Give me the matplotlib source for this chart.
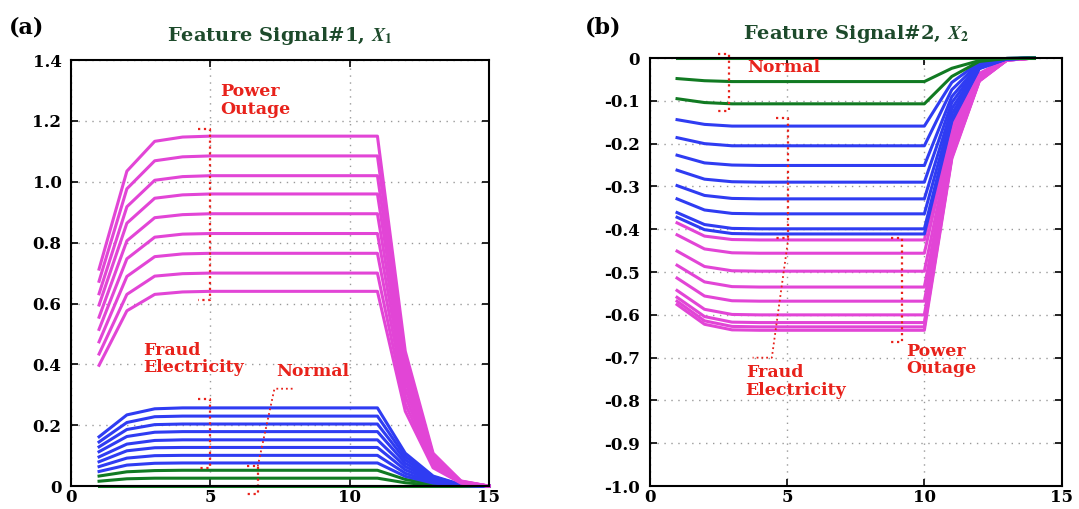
import matplotlib
matplotlib.use('Agg')
import matplotlib.pyplot as plt

plt.rcParams['font.family'] = ['DejaVu Serif']
plt.rcParams['font.weight'] = 'bold'
plt.rcParams['mathtext.fontset'] = 'stix'

# ---- data ----
x1 = list(range(1, 16))
x2 = list(range(1, 15))

# (a) Feature Signal#1
outage1 = [
    [0.713, 1.035, 1.133, 1.147, 1.15, 1.15, 1.15, 1.15, 1.15, 1.15, 1.15, 0.443, 0.108, 0.017, 0],
    [0.673, 0.977, 1.069, 1.082, 1.085, 1.085, 1.085, 1.085, 1.085, 1.085, 1.085, 0.418, 0.102, 0.016, 0],
    [0.632, 0.918, 1.005, 1.017, 1.02, 1.02, 1.02, 1.02, 1.02, 1.02, 1.02, 0.393, 0.096, 0.015, 0],
    [0.595, 0.864, 0.946, 0.957, 0.96, 0.96, 0.96, 0.96, 0.96, 0.96, 0.96, 0.370, 0.090, 0.014, 0],
    [0.555, 0.806, 0.882, 0.892, 0.895, 0.895, 0.895, 0.895, 0.895, 0.895, 0.895, 0.345, 0.084, 0.013, 0],
    [0.515, 0.747, 0.818, 0.828, 0.83, 0.83, 0.83, 0.83, 0.83, 0.83, 0.83, 0.320, 0.078, 0.012, 0],
    [0.474, 0.689, 0.754, 0.763, 0.765, 0.765, 0.765, 0.765, 0.765, 0.765, 0.765, 0.295, 0.072, 0.011, 0],
    [0.434, 0.630, 0.690, 0.698, 0.70, 0.70, 0.70, 0.70, 0.70, 0.70, 0.70, 0.270, 0.066, 0.011, 0],
    [0.397, 0.576, 0.630, 0.638, 0.64, 0.64, 0.64, 0.64, 0.64, 0.64, 0.64, 0.246, 0.060, 0.010, 0],
]
fraud1 = [
    [0.162, 0.234, 0.254, 0.257, 0.257, 0.257, 0.257, 0.257, 0.257, 0.257, 0.257, 0.108, 0.033, 0.005, 0],
    [0.145, 0.209, 0.228, 0.230, 0.230, 0.230, 0.230, 0.230, 0.230, 0.230, 0.230, 0.097, 0.030, 0.005, 0],
    [0.129, 0.186, 0.202, 0.204, 0.204, 0.204, 0.204, 0.204, 0.204, 0.204, 0.204, 0.086, 0.027, 0.004, 0],
    [0.113, 0.163, 0.177, 0.179, 0.179, 0.179, 0.179, 0.179, 0.179, 0.179, 0.179, 0.075, 0.023, 0.004, 0],
    [0.096, 0.138, 0.150, 0.152, 0.152, 0.152, 0.152, 0.152, 0.152, 0.152, 0.152, 0.064, 0.020, 0.003, 0],
    [0.080, 0.116, 0.126, 0.127, 0.127, 0.127, 0.127, 0.127, 0.127, 0.127, 0.127, 0.053, 0.017, 0.003, 0],
    [0.064, 0.092, 0.100, 0.101, 0.101, 0.101, 0.101, 0.101, 0.101, 0.101, 0.101, 0.042, 0.013, 0.002, 0],
    [0.048, 0.069, 0.075, 0.076, 0.076, 0.076, 0.076, 0.076, 0.076, 0.076, 0.076, 0.032, 0.010, 0.002, 0],
]
normal1 = [
    [0.033, 0.047, 0.051, 0.052, 0.052, 0.052, 0.052, 0.052, 0.052, 0.052, 0.052, 0.022, 0.007, 0.001, 0],
    [0.016, 0.024, 0.026, 0.026, 0.026, 0.026, 0.026, 0.026, 0.026, 0.026, 0.026, 0.011, 0.003, 0, 0],
    [0, 0, 0, 0, 0, 0, 0, 0, 0, 0, 0, 0, 0, 0, 0],
]

# (b) Feature Signal#2
normal2 = [
    [0, 0, 0, 0, 0, 0, 0, 0, 0, 0, 0, 0, 0, 0],
    [-0.048, -0.053, -0.055, -0.055, -0.055, -0.055, -0.055, -0.055, -0.055, -0.055, -0.024, -0.006, -0.001, 0],
    [-0.095, -0.104, -0.107, -0.107, -0.107, -0.107, -0.107, -0.107, -0.107, -0.107, -0.043, -0.008, -0.001, 0],
]
fraud2 = [
    [-0.144, -0.155, -0.159, -0.159, -0.159, -0.159, -0.159, -0.159, -0.159, -0.159, -0.057, -0.010, -0.001, 0],
    [-0.186, -0.200, -0.205, -0.205, -0.205, -0.205, -0.205, -0.205, -0.205, -0.205, -0.074, -0.012, -0.001, 0],
    [-0.227, -0.245, -0.250, -0.251, -0.251, -0.251, -0.251, -0.251, -0.251, -0.251, -0.090, -0.015, -0.002, 0],
    [-0.262, -0.283, -0.289, -0.290, -0.290, -0.290, -0.290, -0.290, -0.290, -0.290, -0.104, -0.017, -0.002, 0],
    [-0.298, -0.321, -0.328, -0.329, -0.329, -0.329, -0.329, -0.329, -0.329, -0.329, -0.118, -0.020, -0.002, 0],
    [-0.329, -0.355, -0.363, -0.364, -0.364, -0.364, -0.364, -0.364, -0.364, -0.364, -0.131, -0.022, -0.002, 0],
    [-0.361, -0.389, -0.398, -0.399, -0.399, -0.399, -0.399, -0.399, -0.399, -0.399, -0.144, -0.024, -0.002, 0],
    [-0.372, -0.401, -0.410, -0.411, -0.411, -0.411, -0.411, -0.411, -0.411, -0.411, -0.148, -0.025, -0.002, 0],
]
outage2 = [
    [-0.385, -0.416, -0.424, -0.425, -0.425, -0.425, -0.425, -0.425, -0.425, -0.425, -0.157, -0.036, -0.003, 0],
    [-0.413, -0.446, -0.455, -0.456, -0.456, -0.456, -0.456, -0.456, -0.456, -0.456, -0.169, -0.039, -0.004, 0],
    [-0.451, -0.487, -0.497, -0.498, -0.498, -0.498, -0.498, -0.498, -0.498, -0.498, -0.184, -0.042, -0.004, 0],
    [-0.484, -0.523, -0.534, -0.535, -0.535, -0.535, -0.535, -0.535, -0.535, -0.535, -0.198, -0.045, -0.004, 0],
    [-0.514, -0.556, -0.567, -0.568, -0.568, -0.568, -0.568, -0.568, -0.568, -0.568, -0.210, -0.048, -0.005, 0],
    [-0.543, -0.587, -0.599, -0.600, -0.600, -0.600, -0.600, -0.600, -0.600, -0.600, -0.222, -0.051, -0.005, 0],
    [-0.559, -0.604, -0.617, -0.618, -0.618, -0.618, -0.618, -0.618, -0.618, -0.618, -0.229, -0.053, -0.005, 0],
    [-0.568, -0.614, -0.627, -0.628, -0.628, -0.628, -0.628, -0.628, -0.628, -0.628, -0.232, -0.053, -0.005, 0],
    [-0.576, -0.622, -0.635, -0.636, -0.636, -0.636, -0.636, -0.636, -0.636, -0.636, -0.235, -0.054, -0.005, 0],
]

yticks1 = [0, 0.2, 0.4, 0.6, 0.8, 1.0, 1.2, 1.4]
ylabels1 = ['0', '0.2', '0.4', '0.6', '0.8', '1.0', '1.2', '1.4']
yticks2 = [0, -0.1, -0.2, -0.3, -0.4, -0.5, -0.6, -0.7, -0.8, -0.9, -1.0]
ylabels2 = ['0', '-0.1', '-0.2', '-0.3', '-0.4', '-0.5', '-0.6', '-0.7', '-0.8', '-0.9', '-1.0']
xticks = [0, 5, 10, 15]

MAG = '#e245d6'
BLU = '#2f3cf2'
GRN = '#117a22'
RED = '#e8221b'
TITLE = '#1d4a2b'
LW = 2.2

fig = plt.figure(figsize=(10.79, 5.09), dpi=100)
ax1 = fig.add_axes([0.066, 0.045, 0.387, 0.837])
ax2 = fig.add_axes([0.602, 0.045, 0.382, 0.841])


def style(ax, yt, yl, ylim):
    ax.set_xlim(0, 15)
    ax.set_ylim(*ylim)
    ax.set_xticks(xticks)
    ax.set_xticklabels([str(t) for t in xticks])
    ax.set_yticks(yt)
    ax.set_yticklabels(yl)
    ax.grid(True, linestyle=(0, (1, 4)), color='#999999', linewidth=1.0)
    ax.tick_params(direction='in', length=5, width=1.2, top=True, right=True,
                   labelsize=12)
    ax.tick_params(axis='x', pad=2)
    ax.tick_params(axis='y', pad=7)
    for s in ax.spines.values():
        s.set_linewidth(1.5)


def bracket(ax, x, ytop, ybot, dx):
    kw = dict(color=RED, linestyle=':', linewidth=1.6, clip_on=False)
    ax.plot([x - dx, x, x, x - dx], [ytop, ytop, ybot, ybot], **kw)


# panel (a)
style(ax1, yticks1, ylabels1, (0, 1.4))
for row in normal1:
    ax1.plot(x1, row, color=GRN, lw=LW, clip_on=False)
for row in fraud1:
    ax1.plot(x1, row, color=BLU, lw=LW, clip_on=False)
for row in outage1:
    ax1.plot(x1, row, color=MAG, lw=LW, clip_on=False)

bracket(ax1, 5, 1.175, 0.61, 0.45)
bracket(ax1, 5, 0.285, 0.06, 0.45)
bracket(ax1, 6.7, 0.065, -0.025, 0.4)
ax1.plot([6.7, 7.3, 8.0], [0.065, 0.32, 0.32], color=RED, linestyle=':', lw=1.3)

tk = dict(color=RED, fontsize=12.5, fontweight='bold', va='top', ha='left', linespacing=1.05)
ax1.text(5.35, 1.325, 'Power\nOutage', **tk)
ax1.text(2.6, 0.475, 'Fraud\nElectricity', **tk)
ax1.text(7.35, 0.405, 'Normal', **tk)

ax1.set_title('Feature Signal#1, $X_1$', color=TITLE, fontsize=14,
              fontweight='bold', pad=14)
fig.text(0.008, 0.935, '(a)', fontsize=16, fontweight='bold')

# panel (b)
style(ax2, yticks2, ylabels2, (-1.0, 0))
for row in outage2:
    ax2.plot(x2, row, color=MAG, lw=LW, clip_on=False)
for row in fraud2:
    ax2.plot(x2, row, color=BLU, lw=LW, clip_on=False)
for row in normal2:
    ax2.plot(x2, row, color=GRN, lw=LW, clip_on=False)

bracket(ax2, 2.9, 0.01, -0.123, 0.42)
bracket(ax2, 5.05, -0.141, -0.421, 0.45)
bracket(ax2, 9.2, -0.421, -0.664, 0.4)
ax2.plot([5.05, 4.45, 3.75], [-0.421, -0.70, -0.70], color=RED, linestyle=':', lw=1.3)

ax2.text(3.55, -0.002, 'Normal', **tk)
ax2.text(3.5, -0.715, 'Fraud\nElectricity', **tk)
ax2.text(9.35, -0.665, 'Power\nOutage', **tk)

ax2.set_title('Feature Signal#2, $X_2$', color=TITLE, fontsize=14,
              fontweight='bold', pad=14)
fig.text(0.542, 0.935, '(b)', fontsize=16, fontweight='bold')

fig.savefig('out.png', dpi=100)
